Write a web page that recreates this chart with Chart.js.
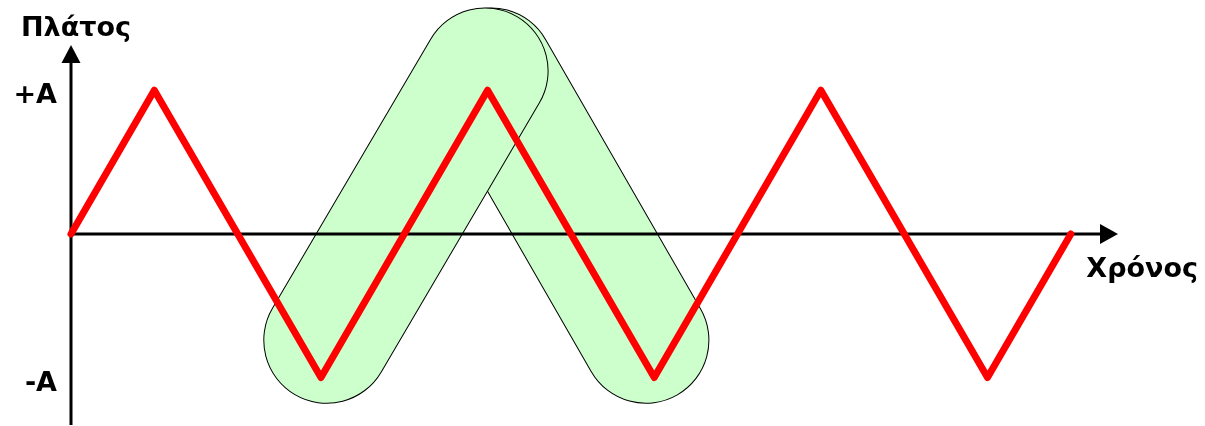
<!DOCTYPE html>
<html>
<head>
<meta charset="utf-8">
<script src="https://cdn.jsdelivr.net/npm/chart.js@4"></script>
<style>
  body { margin: 0; background: #fff; }
</style>
</head>
<body>
<canvas id="waveChart" width="1205" height="426"></canvas>
<script>
// Dữ liệu sóng tam giác (đơn vị: 1/4 chu kỳ, biên độ A = 1)
const waveX = [0, 1, 3, 5, 7, 9, 11, 12];
const waveY = [0, 1, -1, 1, -1, 1, -1, 0];

// Hai dải màu xanh (đường tâm)
const band1X = [3.07, 4.97];
const band1Y = [-0.74, 1.135];
const band2X = [5.04, 6.9];
const band2Y = [1.135, -0.74];

// Nhãn trục
const yTickValues = [1, -1];
const yTickLabels = ['+A', '-A'];
const yTitle = 'Πλάτος';
const xTitle = 'Χρόνος';

const FAMILY = '"DejaVu Sans", Verdana, sans-serif';
const FONT = 'bold 27px ' + FAMILY;

function toPoints(xs, ys) {
    return xs.map((x, i) => ({ x: x, y: ys[i] }));
}

function band(xs, ys, color, width, order) {
    return {
        data: toPoints(xs, ys),
        borderColor: color,
        borderWidth: width,
        borderCapStyle: 'round',
        pointRadius: 0,
        clip: false,
        order: order
    };
}

// Vẽ trục có mũi tên ngay sau dải phía trước (trên dải xanh, dưới đường đỏ)
const axesPlugin = {
    id: 'axesPlugin',
    afterDatasetDraw(chart, args) {
        if (args.meta.order !== 1) return;
        const ctx = chart.ctx;
        const area = chart.chartArea;
        const y0 = chart.scales.y.getPixelForValue(0);
        ctx.save();
        ctx.strokeStyle = '#000';
        ctx.fillStyle = '#000';
        ctx.lineWidth = 3;
        ctx.beginPath();
        ctx.moveTo(area.left, area.bottom);
        ctx.lineTo(area.left, area.top);
        ctx.moveTo(area.left, y0);
        ctx.lineTo(area.right, y0);
        ctx.stroke();
        // mũi tên trục tung
        ctx.beginPath();
        ctx.moveTo(area.left, area.top - 18);
        ctx.lineTo(area.left - 9.5, area.top);
        ctx.lineTo(area.left + 9.5, area.top);
        ctx.closePath();
        ctx.fill();
        // mũi tên trục hoành
        ctx.beginPath();
        ctx.moveTo(area.right + 18, y0);
        ctx.lineTo(area.right, y0 - 10);
        ctx.lineTo(area.right, y0 + 10);
        ctx.closePath();
        ctx.fill();
        ctx.restore();
    },
    afterDraw(chart) {
        const ctx = chart.ctx;
        const area = chart.chartArea;
        const y0 = chart.scales.y.getPixelForValue(0);
        ctx.save();
        ctx.fillStyle = '#000';
        ctx.font = FONT;
        ctx.textBaseline = 'alphabetic';
        ctx.textAlign = 'center';
        ctx.fillText(yTitle, area.left + 5, area.top - 27);
        ctx.textAlign = 'right';
        ctx.fillText(xTitle, chart.width - 7, y0 + 43);
        ctx.restore();
    }
};

const ctx = document.getElementById('waveChart').getContext('2d');
new Chart(ctx, {
    type: 'line',
    data: {
        datasets: [
            {
                data: toPoints(waveX, waveY),
                borderColor: '#ff0000',
                borderWidth: 7,
                borderCapStyle: 'round',
                borderJoinStyle: 'round',
                pointRadius: 0,
                tension: 0,
                clip: false,
                order: 0
            },
            band(band1X, band1Y, '#ccffcc', 125, 1),
            band(band1X, band1Y, '#000000', 127, 2),
            band(band2X, band2Y, '#ccffcc', 125, 3),
            band(band2X, band2Y, '#000000', 127, 4)
        ]
    },
    options: {
        responsive: false,
        animation: false,
        devicePixelRatio: 1,
        layout: {
            padding: { top: 63, right: 105, bottom: 1, left: 0 }
        },
        plugins: {
            legend: { display: false },
            tooltip: { enabled: false }
        },
        scales: {
            x: {
                type: 'linear',
                min: 0,
                max: 12.35,
                display: false
            },
            y: {
                type: 'linear',
                min: -1.33,
                max: 1.19,
                position: 'left',
                grid: { display: false, drawTicks: false },
                border: { display: false },
                afterFit: function(scale) {
                    scale.width = 71;
                    scale.paddingTop = 0;
                    scale.paddingBottom = 0;
                },
                afterBuildTicks: function(scale) {
                    scale.ticks = yTickValues.map(v => ({ value: v }));
                },
                ticks: {
                    color: '#000',
                    padding: 14,
                    labelOffset: 6,
                    font: { family: FAMILY, size: 27, weight: 'bold' },
                    callback: function(value) {
                        const i = yTickValues.indexOf(value);
                        return i >= 0 ? yTickLabels[i] : '';
                    }
                }
            }
        }
    },
    plugins: [axesPlugin]
});
</script>
</body>
</html>
